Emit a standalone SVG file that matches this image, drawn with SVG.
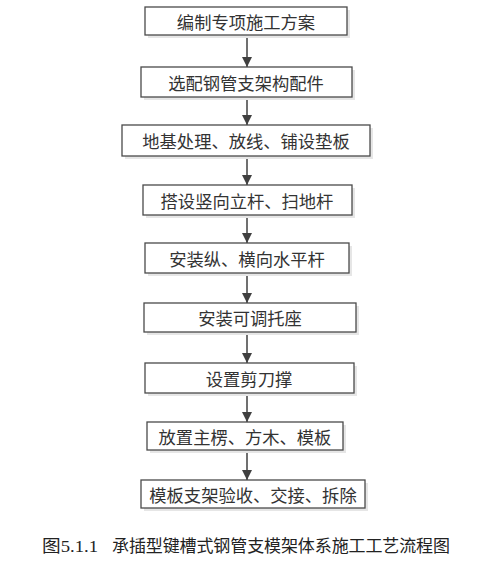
<svg xmlns="http://www.w3.org/2000/svg" width="493" height="565" viewBox="0 0 493 565">
<style>
.box rect.s{fill:#e6e6e6;stroke:none}
.box rect.b{fill:#fff;stroke:#4a4a4a;stroke-width:1.3}
.box text{font-family:"Noto Sans CJK SC","Liberation Serif",sans-serif;font-size:17.3px;fill:#333;text-anchor:middle;dominant-baseline:central}
.conn line{stroke:#404040;stroke-width:1.5}
.cap{font-family:"Liberation Serif","Noto Sans CJK SC",serif;font-size:17px;fill:#222}
</style>
<defs>
<marker id="ah" viewBox="0 0 10 10" refX="10" refY="5" markerWidth="10" markerHeight="10" markerUnits="userSpaceOnUse" orient="auto">
<path d="M0,0 L10,5 L0,10 z" fill="#404040"/>
</marker>
</defs>
<rect width="493" height="565" fill="#fff"/>
<g class="conn">
<line x1="247" y1="35" x2="247" y2="67" marker-end="url(#ah)"/>
<line x1="247" y1="97" x2="247" y2="125" marker-end="url(#ah)"/>
<line x1="247" y1="156" x2="247" y2="185" marker-end="url(#ah)"/>
<line x1="247" y1="215" x2="247" y2="243" marker-end="url(#ah)"/>
<line x1="247" y1="273" x2="247" y2="303" marker-end="url(#ah)"/>
<line x1="247" y1="332" x2="247" y2="363" marker-end="url(#ah)"/>
<line x1="247" y1="393" x2="247" y2="422" marker-end="url(#ah)"/>
<line x1="247" y1="450" x2="247" y2="480" marker-end="url(#ah)"/>
</g>
<g id="n1" class="box"><rect class="s" x="148" y="10" width="202" height="28"/><rect class="b" x="145" y="7" width="202" height="28"/><text x="246" y="21">编制专项施工方案</text></g>
<g id="n2" class="box"><rect class="s" x="144" y="70" width="211" height="30"/><rect class="b" x="141" y="67" width="211" height="30"/><text x="246" y="82">选配钢管支架构配件</text></g>
<g id="n3" class="box"><rect class="s" x="125" y="128" width="248" height="31"/><rect class="b" x="122" y="125" width="248" height="31"/><text x="246" y="140.5">地基处理、放线、铺设垫板</text></g>
<g id="n4" class="box"><rect class="s" x="146" y="188" width="209" height="30"/><rect class="b" x="143" y="185" width="209" height="30"/><text x="247" y="200">搭设竖向立杆、扫地杆</text></g>
<g id="n5" class="box"><rect class="s" x="148" y="246" width="204" height="30"/><rect class="b" x="145" y="243" width="204" height="30"/><text x="247" y="258">安装纵、横向水平杆</text></g>
<g id="n6" class="box"><rect class="s" x="147" y="306" width="212" height="29"/><rect class="b" x="144" y="303" width="212" height="29"/><text x="250" y="317.5">安装可调托座</text></g>
<g id="n7" class="box"><rect class="s" x="148" y="366" width="209" height="30"/><rect class="b" x="145" y="363" width="209" height="30"/><text x="249" y="378">设置剪刀撑</text></g>
<g id="n8" class="box"><rect class="s" x="150" y="425" width="196" height="28"/><rect class="b" x="147" y="422" width="196" height="28"/><text x="245" y="436">放置主楞、方木、模板</text></g>
<g id="n9" class="box"><rect class="s" x="144" y="483" width="224" height="28"/><rect class="b" x="141" y="480" width="224" height="28"/><text x="253" y="494">模板支架验收、交接、拆除</text></g>
<text class="cap" x="42" y="552" font-size="18" textLength="56" lengthAdjust="spacingAndGlyphs">图5.1.1</text>
<text class="cap" x="112" y="552" textLength="338" lengthAdjust="spacing">承插型键槽式钢管支模架体系施工工艺流程图</text>
</svg>
